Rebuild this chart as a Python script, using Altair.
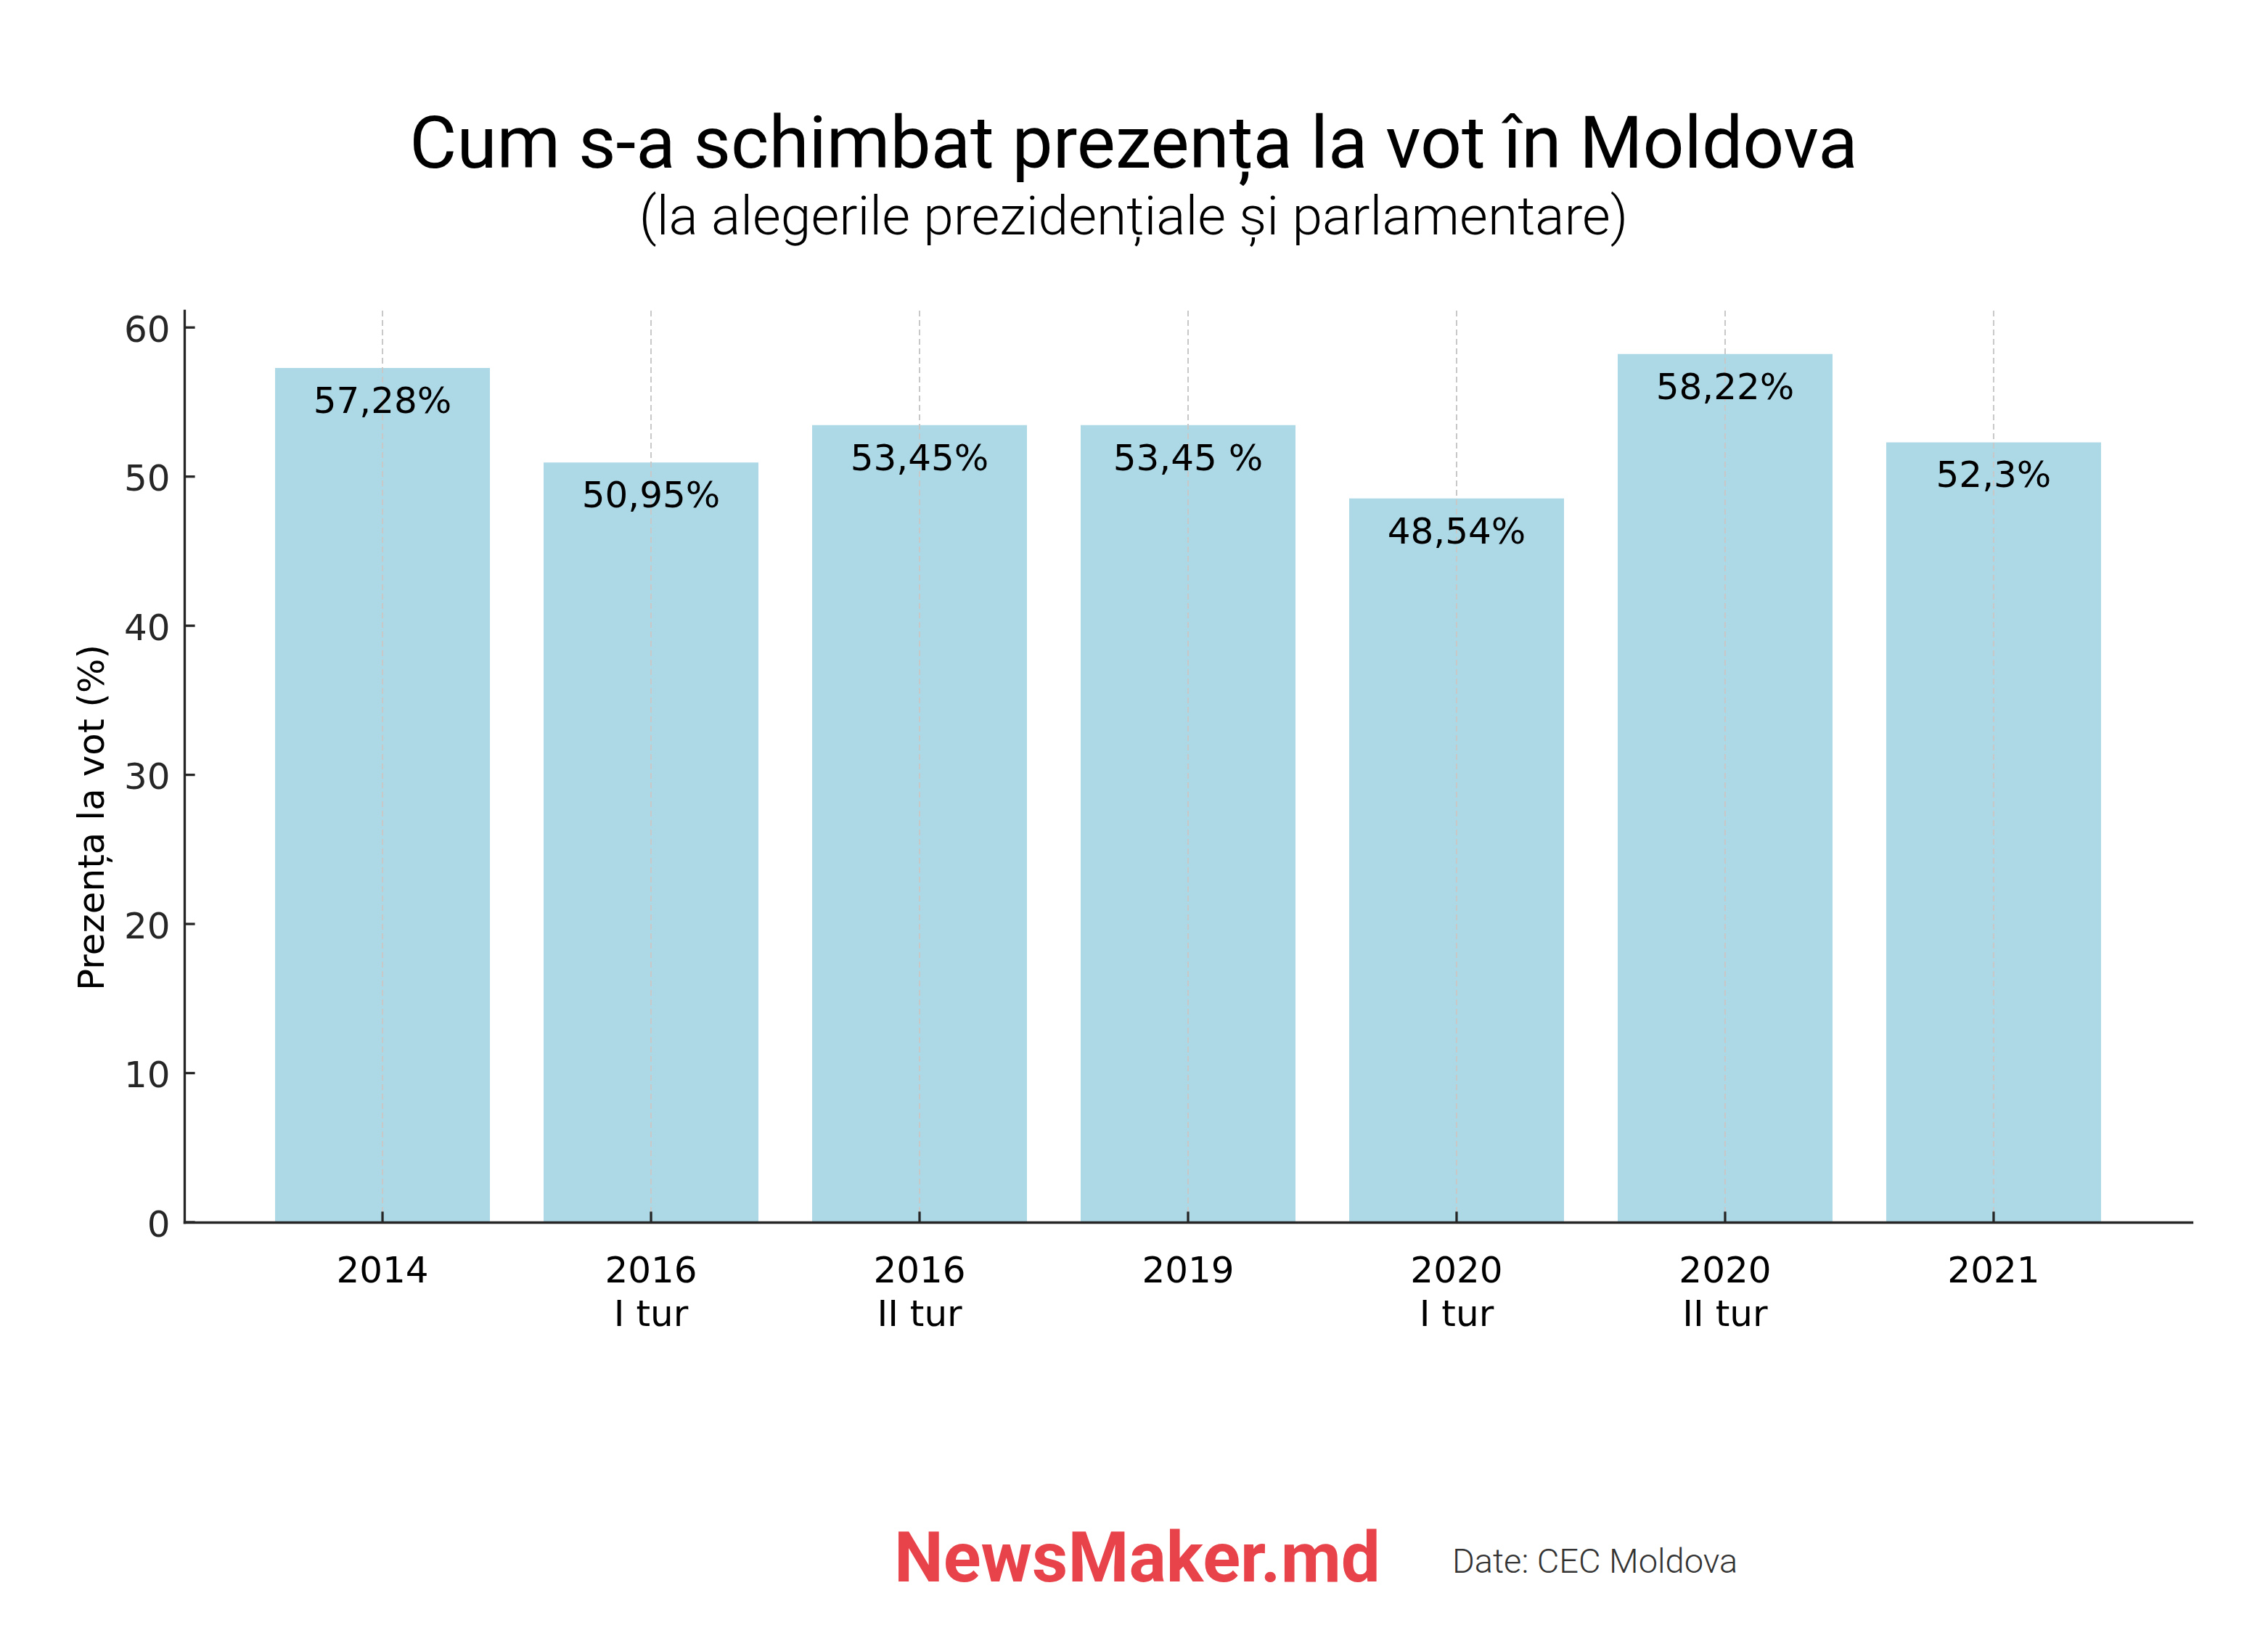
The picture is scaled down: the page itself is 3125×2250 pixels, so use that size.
import altair as alt
import pandas as pd

# ---- data ----
categories = ["2014", "2016\nI tur", "2016\nII tur", "2019", "2020\nI tur", "2020\nII tur", "2021"]
turnout = [57.28, 50.95, 53.45, 53.45, 48.54, 58.22, 52.3]
value_labels = ["57,28%", "50,95%", "53,45%", "53,45 %", "48,54%", "58,22%", "52,3%"]
y_ticks = [0, 10, 20, 30, 40, 50, 60]

title_text = "Cum s-a schimbat prezența la vot în Moldova"
subtitle_text = "(la alegerile prezidențiale și parlamentare)"
y_title = "Prezența la vot (%)"
brand_text = ["NewsMaker.md"]
source_text = ["Date: CEC Moldova"]

df = pd.DataFrame({"cat": categories, "turnout": turnout, "vlabel": value_labels})
ticks_df = pd.DataFrame({"turnout": y_ticks})

W, H = 2766, 1256
AX = "#262626"

x_enc = alt.X(
    "cat:N",
    sort=categories,
    scale=alt.Scale(paddingInner=0.2, paddingOuter=0.338),
    axis=alt.Axis(
        title=None,
        labelExpr="split(datum.label, '\\n')",
        labelFont="DejaVu Sans",
        labelFontSize=50,
        labelColor="black",
        labelLineHeight=60,
        labelPadding=42,
        labelAngle=0,
        labelBaseline="top",
        ticks=False,
        tickSize=0,
        grid=False,
        domainColor=AX,
        domainWidth=3.3,
        domainCap="square",
        zindex=1,
    ),
)

y_scale = alt.Scale(domain=[0, 61.13], nice=False, zero=True)
y_enc = alt.Y(
    "turnout:Q",
    scale=y_scale,
    axis=alt.Axis(
        title=y_title,
        titleFont="DejaVu Sans",
        titleFontSize=50,
        titleFontWeight="normal",
        titleColor="black",
        titleAngle=270,
        titleAlign="center",
        titleBaseline="alphabetic",
        titleX=-112,
        titleY=698,
        values=y_ticks,
        labelFont="DejaVu Sans",
        labelFontSize=50,
        labelColor=AX,
        labelPadding=20,
        labelOffset=4,
        ticks=False,
        tickSize=0,
        grid=False,
        domainColor=AX,
        domainWidth=3.3,
        domainCap="square",
        zindex=1,
    ),
)

base = alt.Chart(df)

bars = base.mark_bar(color="#ADD8E6").encode(x=x_enc, y=y_enc)

grid = base.mark_rule(color="#c8c8c8", strokeWidth=2, strokeDash=[8, 5]).encode(
    x=x_enc, y=alt.value(0), y2=alt.value(H)
)

texts = base.mark_text(
    font="DejaVu Sans", fontSize=50, color="black", baseline="alphabetic", align="center", dy=62
).encode(x=x_enc, y=y_enc, text="vlabel:N")

xticks = base.mark_rule(color=AX, strokeWidth=3.3).encode(
    x=x_enc, y=alt.value(H), y2=alt.value(H - 14.6)
)

yticks = alt.Chart(ticks_df).mark_rule(color=AX, strokeWidth=3.3).encode(
    y=y_enc, x=alt.value(0), x2=alt.value(14.6)
)

brand = alt.Chart(pd.DataFrame({"t": brand_text})).mark_text(
    font="Roboto", fontSize=96, fontWeight="bold", color="#E8424A", align="left", baseline="alphabetic"
).encode(x=alt.value(978), y=alt.value(1751), text="t:N")

source = alt.Chart(pd.DataFrame({"t": source_text})).mark_text(
    font="Roboto", fontSize=47, fontWeight=300, color="#333333", align="left", baseline="alphabetic"
).encode(x=alt.value(1747), y=alt.value(1739), text="t:N")

chart = alt.layer(bars, grid, texts, xticks, yticks, brand, source).properties(
    width=W,
    height=H,
    autosize=alt.AutoSizeParams(type="none"),
    padding={"left": 254, "top": 428, "right": 105, "bottom": 566},
    background="white",
    title=alt.Title(
        text=title_text,
        subtitle=subtitle_text,
        font="Roboto",
        fontSize=100,
        fontWeight="normal",
        color="black",
        subtitleFont="Roboto",
        subtitleFontSize=75,
        subtitleFontWeight=300,
        subtitleColor="black",
        anchor="middle",
        dx=-75,
        offset=88,
        subtitlePadding=12,
    ),
).configure_view(stroke=None)

chart.save("out.html", embed_options={"renderer": "svg", "actions": False})
